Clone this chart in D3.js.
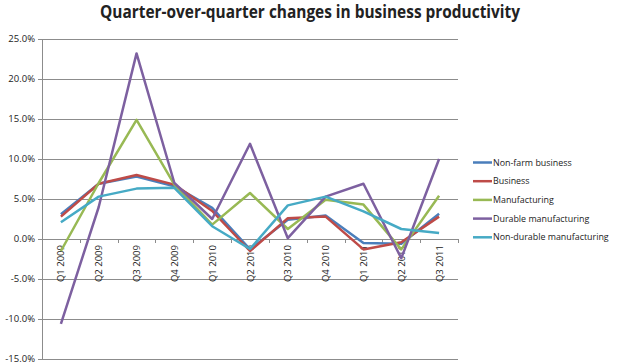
<!DOCTYPE html>
<html>
<head>
<meta charset="utf-8">
<script src="https://cdn.jsdelivr.net/npm/d3@7"></script>
<style>
  body { margin: 0; background: #fff; }
  text { font-family: "Open Sans", "Liberation Sans", sans-serif; fill: #222; }
</style>
</head>
<body>
<div id="chart"></div>
<script>
// quarters and series values (percent change)
var quarters = ["Q1 2009", "Q2 2009", "Q3 2009", "Q4 2009", "Q1 2010", "Q2 2010",
                "Q3 2010", "Q4 2010", "Q1 2011", "Q2 2011", "Q3 2011"];
var nonFarm = [3.1, 6.9, 7.8, 6.6, 3.9, -1.3, 2.4, 2.95, -0.5, -0.6, 3.15];
var business = [2.8, 6.9, 8.0, 6.8, 3.5, -1.5, 2.6, 2.8, -1.3, -0.4, 2.8];
var manufacturing = [-1.5, 7.0, 14.9, 6.8, 1.8, 5.75, 1.25, 4.9, 4.3, -1.3, 5.4];
var durable = [-10.6, 4.0, 23.2, 7.0, 2.5, 11.9, 0.1, 5.3, 6.9, -2.4, 10.0];
var nonDurable = [2.1, 5.3, 6.3, 6.4, 1.6, -1.25, 4.2, 5.3, 3.45, 1.25, 0.75];
var yTicks = [-15, -10, -5, 0, 5, 10, 15, 20, 25];

var seriesNames = ["Non-farm business", "Business", "Manufacturing", "Durable manufacturing", "Non-durable manufacturing"];
var seriesColors = ["#4a7ebb", "#be4b48", "#98b954", "#7d60a0", "#46aac5"];
var seriesData = [nonFarm, business, manufacturing, durable, nonDurable];

var width = 620, height = 364;
var svg = d3.select("#chart").append("svg")
    .attr("width", width)
    .attr("height", height);

var x = d3.scaleBand().domain(quarters).range([42, 458]);
var y = d3.scaleLinear().domain([-15, 25]).range([359, 39]);
var cx = function (q) { return x(q) + x.bandwidth() / 2; };

// title
svg.append("text")
    .attr("x", 310)
    .attr("y", 18)
    .attr("text-anchor", "middle")
    .attr("textLength", 420)
    .attr("lengthAdjust", "spacingAndGlyphs")
    .style("font-size", "17px")
    .style("font-weight", "bold")
    .text("Quarter-over-quarter changes in business productivity");

// gridlines
svg.append("g").selectAll("line")
    .data(yTicks)
    .enter().append("line")
    .attr("x1", 38).attr("x2", 458)
    .attr("y1", function (d) { return Math.round(y(d)) + 0.5; })
    .attr("y2", function (d) { return Math.round(y(d)) + 0.5; })
    .attr("stroke", "#8c8c8c")
    .attr("stroke-width", 1);

// vertical axis
svg.append("line")
    .attr("x1", 42.5).attr("x2", 42.5)
    .attr("y1", y(25)).attr("y2", y(-15))
    .attr("stroke", "#8c8c8c");

svg.append("g").selectAll("text")
    .data(yTicks)
    .enter().append("text")
    .attr("x", 35)
    .attr("y", function (d) { return y(d); })
    .attr("dy", "0.35em")
    .attr("text-anchor", "end")
    .style("font-size", "9.5px")
    .text(function (d) { return d.toFixed(1) + "%"; });

// category tick marks along the zero line
var edges = quarters.map(function (q) { return x(q); }).concat([x.range()[1]]);
svg.append("g").selectAll("line")
    .data(edges)
    .enter().append("line")
    .attr("x1", function (d) { return Math.round(d) + 0.5; })
    .attr("x2", function (d) { return Math.round(d) + 0.5; })
    .attr("y1", Math.round(y(0)))
    .attr("y2", Math.round(y(0)) + 4)
    .attr("stroke", "#8c8c8c");

// category labels, rotated
svg.append("g").selectAll("text")
    .data(quarters)
    .enter().append("text")
    .attr("transform", function (d) { return "translate(" + (cx(d) + 3.5) + "," + (y(0) + 6) + ") rotate(-90)"; })
    .attr("text-anchor", "end")
    .style("font-size", "9.5px")
    .text(function (d) { return d; });

// lines
var line = d3.line()
    .x(function (d, i) { return cx(quarters[i]); })
    .y(function (d) { return y(d); });

svg.append("g").selectAll("path")
    .data(seriesData)
    .enter().append("path")
    .attr("d", line)
    .attr("fill", "none")
    .attr("stroke", function (d, i) { return seriesColors[i]; })
    .attr("stroke-width", 2.5)
    .attr("stroke-linejoin", "round");

// legend
var legend = svg.append("g").selectAll("g")
    .data(seriesNames)
    .enter().append("g")
    .attr("transform", function (d, i) { return "translate(473," + (162.5 + i * 18.7) + ")"; });

legend.append("line")
    .attr("x1", 0).attr("x2", 19)
    .attr("stroke", function (d, i) { return seriesColors[i]; })
    .attr("stroke-width", 2.5);

legend.append("text")
    .attr("x", 20)
    .attr("dy", "0.35em")
    .style("font-size", "8.9px")
    .text(function (d) { return d; });
</script>
</body>
</html>
